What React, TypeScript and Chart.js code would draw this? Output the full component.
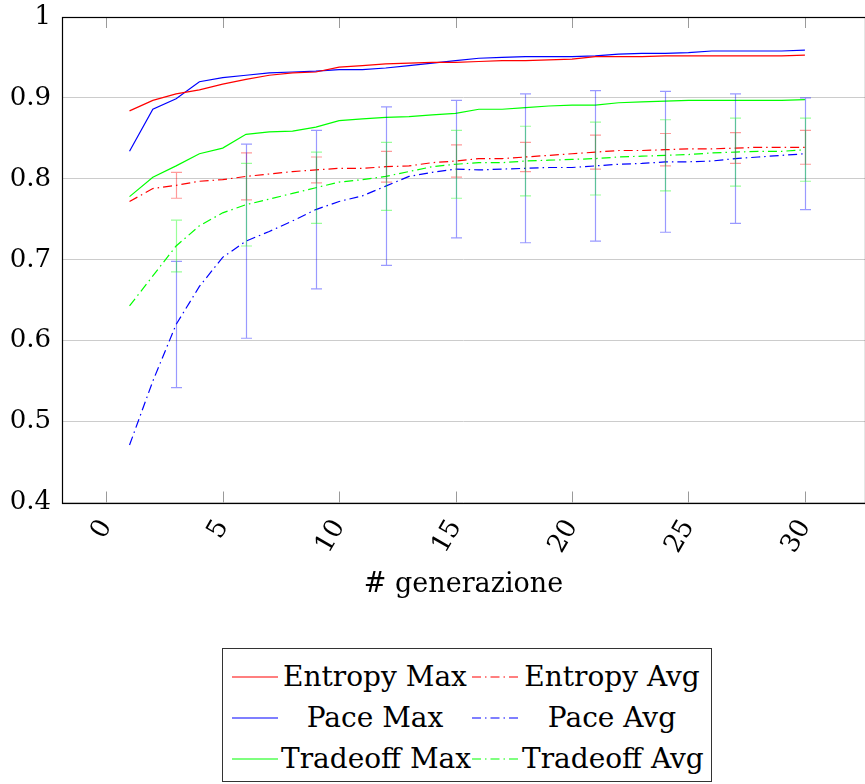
import React, { useEffect, useRef } from "react";
import { Chart, registerables } from "chart.js";

Chart.register(...registerables);

// ---------- data ----------
const generations = [
  1, 2, 3, 4, 5, 6, 7, 8, 9, 10, 11, 12, 13, 14, 15, 16, 17, 18, 19, 20, 21, 22, 23, 24, 25, 26, 27, 28, 29, 30,
];

const entropyMax = [
  0.884, 0.897, 0.905, 0.91, 0.917, 0.923, 0.928, 0.931, 0.932, 0.938, 0.94, 0.942, 0.943, 0.944, 0.944, 0.945,
  0.946, 0.946, 0.947, 0.948, 0.951, 0.951, 0.951, 0.952, 0.952, 0.952, 0.952, 0.952, 0.952, 0.953,
];
const entropyAvg = [
  0.772, 0.788, 0.792, 0.797, 0.799, 0.803, 0.806, 0.809, 0.811, 0.813, 0.813, 0.815, 0.816, 0.82, 0.822, 0.825,
  0.825, 0.827, 0.829, 0.831, 0.833, 0.835, 0.835, 0.836, 0.837, 0.837, 0.838, 0.839, 0.839, 0.839,
];
const paceMax = [
  0.834, 0.886, 0.899, 0.92, 0.925, 0.928, 0.931, 0.932, 0.933, 0.935, 0.935, 0.937, 0.94, 0.943, 0.946, 0.949,
  0.95, 0.951, 0.951, 0.951, 0.952, 0.954, 0.955, 0.955, 0.956, 0.958, 0.958, 0.958, 0.958, 0.959,
];
const paceAvg = [
  0.471, 0.55, 0.62, 0.667, 0.703, 0.723, 0.735, 0.748, 0.762, 0.772, 0.779, 0.791, 0.803, 0.808, 0.812, 0.811,
  0.812, 0.813, 0.814, 0.814, 0.816, 0.818, 0.819, 0.821, 0.821, 0.822, 0.825, 0.827, 0.829, 0.831,
];
const tradeoffMax = [
  0.778, 0.802, 0.816, 0.831, 0.838, 0.855, 0.858, 0.859, 0.864, 0.872, 0.874, 0.876, 0.877, 0.879, 0.881, 0.886,
  0.886, 0.888, 0.89, 0.891, 0.891, 0.894, 0.895, 0.896, 0.897, 0.897, 0.897, 0.897, 0.897, 0.898,
];
const tradeoffAvg = [
  0.643, 0.68, 0.717, 0.742, 0.758, 0.768, 0.775, 0.782, 0.789, 0.796, 0.799, 0.803, 0.809, 0.815, 0.818, 0.82,
  0.82, 0.822, 0.823, 0.824, 0.825, 0.827, 0.828, 0.829, 0.83, 0.832, 0.833, 0.834, 0.834, 0.836,
];

// error bars (half-widths) at these generations
const errorGenerations = [3, 6, 9, 12, 15, 18, 21, 24, 27, 30];
const entropyErr = [0.016, 0.029, 0.016, 0.019, 0.02, 0.018, 0.021, 0.02, 0.019, 0.021];
const paceErr = [0.078, 0.12, 0.098, 0.098, 0.085, 0.092, 0.093, 0.087, 0.08, 0.069];
const tradeoffErr = [0.032, 0.051, 0.044, 0.042, 0.042, 0.043, 0.045, 0.044, 0.042, 0.039];

const xTicks = [0, 5, 10, 15, 20, 25, 30];
const yTicks = [0.4, 0.5, 0.6, 0.7, 0.8, 0.9, 1];
const xLimits = [-1.9, 32.58];
const yLimits = [0.4, 1];

const xTitle = "# generazione";
const seriesLabels = ["Entropy Max", "Entropy Avg", "Pace Max", "Pace Avg", "Tradeoff Max", "Tradeoff Avg"];

// ---------- styles ----------
const FONT = '"DejaVu Serif", serif';
const RED = "#ff0000";
const BLUE = "#0000ff";
const GREEN = "#00ff00";
const DASHDOT = [9, 4, 1.5, 4];

const toPoints = (vals: number[]) => generations.map((g, i) => ({ x: g, y: vals[i] }));

const errorBarPlugin = {
  id: "errorBars",
  afterDatasetsDraw(chart: any) {
    const { ctx } = chart;
    const xs = chart.scales.x;
    const ys = chart.scales.y;
    ctx.save();
    ctx.beginPath();
    ctx.rect(chart.chartArea.left, chart.chartArea.top, chart.chartArea.right - chart.chartArea.left, chart.chartArea.bottom - chart.chartArea.top);
    ctx.clip();
    chart.data.datasets.forEach((ds: any) => {
      if (!ds.errors) return;
      ctx.strokeStyle = ds.errorColor;
      ctx.lineWidth = 1.2;
      ctx.setLineDash([]);
      ds.errors.forEach((e: number, i: number) => {
        const g = errorGenerations[i];
        const idx = generations.indexOf(g);
        const mean = ds.data[idx].y;
        const px = Math.round(xs.getPixelForValue(g)) + 0.5;
        const top = ys.getPixelForValue(mean + e);
        const bot = ys.getPixelForValue(mean - e);
        ctx.beginPath();
        ctx.moveTo(px, top);
        ctx.lineTo(px, bot);
        ctx.moveTo(px - 5.5, top);
        ctx.lineTo(px + 5.5, top);
        ctx.moveTo(px - 5.5, bot);
        ctx.lineTo(px + 5.5, bot);
        ctx.stroke();
      });
    });
    ctx.restore();
  },
};

const framePlugin = {
  id: "frame",
  afterDraw(chart: any) {
    const { ctx, chartArea } = chart;
    const xs = chart.scales.x;
    ctx.save();
    ctx.setLineDash([]);
    ctx.strokeStyle = "#9a9a9a";
    ctx.lineWidth = 1;
    xs.ticks.forEach((t: any) => {
      const px = Math.round(xs.getPixelForValue(t.value)) + 0.5;
      ctx.beginPath();
      ctx.moveTo(px, chartArea.bottom);
      ctx.lineTo(px, chartArea.bottom - 11);
      ctx.moveTo(px, chartArea.top);
      ctx.lineTo(px, chartArea.top + 11);
      ctx.stroke();
    });
    ctx.strokeStyle = "#000";
    ctx.lineWidth = 1.2;
    const l = Math.round(chartArea.left) + 0.5;
    const t = Math.round(chartArea.top) + 0.5;
    const b = Math.round(chartArea.bottom) + 0.5;
    const r = Math.round(chartArea.right) + 0.5;
    ctx.strokeRect(l, t, r - l, b - t);
    ctx.restore();
  },
};

function LegendSample({ color, dashed }: { color: string; dashed: boolean }) {
  return (
    <svg width={46} height={6} style={{ display: "block" }}>
      <line
        x1={0}
        y1={3}
        x2={46}
        y2={3}
        stroke={color}
        strokeWidth={1.2}
        strokeDasharray={dashed ? DASHDOT.join(" ") : undefined}
      />
    </svg>
  );
}

export default function App() {
  const canvasRef = useRef<HTMLCanvasElement | null>(null);

  useEffect(() => {
    if (!canvasRef.current) return;
    const mk = (label: string, vals: number[], color: string, dashed: boolean, errors?: number[], errorColor?: string) => ({
      label,
      data: toPoints(vals),
      borderColor: color,
      backgroundColor: color,
      borderWidth: 1.2,
      borderDash: dashed ? DASHDOT : [],
      pointRadius: 0,
      tension: 0,
      fill: false,
      errors,
      errorColor,
    });
    const chart = new Chart(canvasRef.current, {
      type: "line",
      data: {
        datasets: [
          mk(seriesLabels[0], entropyMax, RED, false),
          mk(seriesLabels[1], entropyAvg, RED, true, entropyErr, "rgba(255,0,0,0.4)"),
          mk(seriesLabels[2], paceMax, BLUE, false),
          mk(seriesLabels[3], paceAvg, BLUE, true, paceErr, "rgba(0,0,255,0.4)"),
          mk(seriesLabels[4], tradeoffMax, GREEN, false),
          mk(seriesLabels[5], tradeoffAvg, GREEN, true, tradeoffErr, "rgba(0,255,0,0.4)"),
        ] as any,
      },
      options: {
        animation: false,
        responsive: false,
        devicePixelRatio: 1,
        layout: { padding: { top: 17, right: 0, left: 0, bottom: 0 } },
        plugins: { legend: { display: false }, tooltip: { enabled: false } },
        scales: {
          x: {
            type: "linear",
            min: xLimits[0],
            max: xLimits[1],
            afterBuildTicks: (s: any) => {
              s.ticks = xTicks.map((v) => ({ value: v }));
            },
            afterFit: (s: any) => {
              s.height = 102.5;
              s.paddingLeft = 0;
              s.paddingRight = 0;
            },
            grid: { display: false },
            border: { display: false },
            ticks: {
              autoSkip: false,
              minRotation: 60,
              maxRotation: 60,
              padding: 4,
              color: "#000",
              font: { family: FONT, size: 26 },
            },
            title: {
              display: true,
              text: xTitle,
              color: "#000",
              font: { family: FONT, size: 27 },
              padding: { top: 0, bottom: 4 },
            },
          },
          y: {
            min: yLimits[0],
            max: yLimits[1],
            afterBuildTicks: (s: any) => {
              s.ticks = yTicks.map((v) => ({ value: v }));
            },
            afterFit: (s: any) => {
              s.width = 62;
              s.paddingTop = 0;
              s.paddingBottom = 0;
            },
            grid: { color: "#cccccc", lineWidth: 1, drawTicks: false },
            border: { display: false },
            ticks: {
              padding: 11,
              color: "#000",
              font: { family: FONT, size: 26, lineHeight: 1 },
              callback: (v: any) => (Number(v) === 1 ? "1" : Number(v).toFixed(1)),
            },
          },
        },
      } as any,
      plugins: [errorBarPlugin, framePlugin],
    });
    return () => chart.destroy();
  }, []);

  const legendRows = [
    [0, 1],
    [2, 3],
    [4, 5],
  ];
  const colors = [RED, RED, BLUE, BLUE, GREEN, GREEN];

  return (
    <div style={{ position: "fixed", left: 0, top: 0, width: 865, height: 784, overflow: "hidden", background: "#fff" }}>
      <canvas ref={canvasRef} width={865} height={605} style={{ position: "absolute", left: 0, top: 0, width: 865, height: 605 }} />
      <div
        style={{
          position: "absolute",
          left: 222,
          top: 648,
          width: 490,
          height: 134,
          border: "1px solid #333",
          boxSizing: "border-box",
          fontFamily: FONT,
          fontSize: 28,
          color: "#000",
        }}
      >
        {legendRows.map((row, r) => (
          <div key={r} style={{ position: "absolute", left: 0, top: 7 + r * 41, width: 490, height: 41 }}>
            {row.map((si, c) => (
              <React.Fragment key={si}>
                <div style={{ position: "absolute", left: c === 0 ? 9 : 249, top: 18 }}>
                  <LegendSample color={colors[si]} dashed={si % 2 === 1} />
                </div>
                <div
                  style={{
                    position: "absolute",
                    left: c === 0 ? 58 : 299,
                    width: c === 0 ? 188 : 180,
                    top: 0,
                    height: 41,
                    lineHeight: "41px",
                    textAlign: "center",
                    whiteSpace: "nowrap",
                  }}
                >
                  {seriesLabels[si]}
                </div>
              </React.Fragment>
            ))}
          </div>
        ))}
      </div>
    </div>
  );
}
